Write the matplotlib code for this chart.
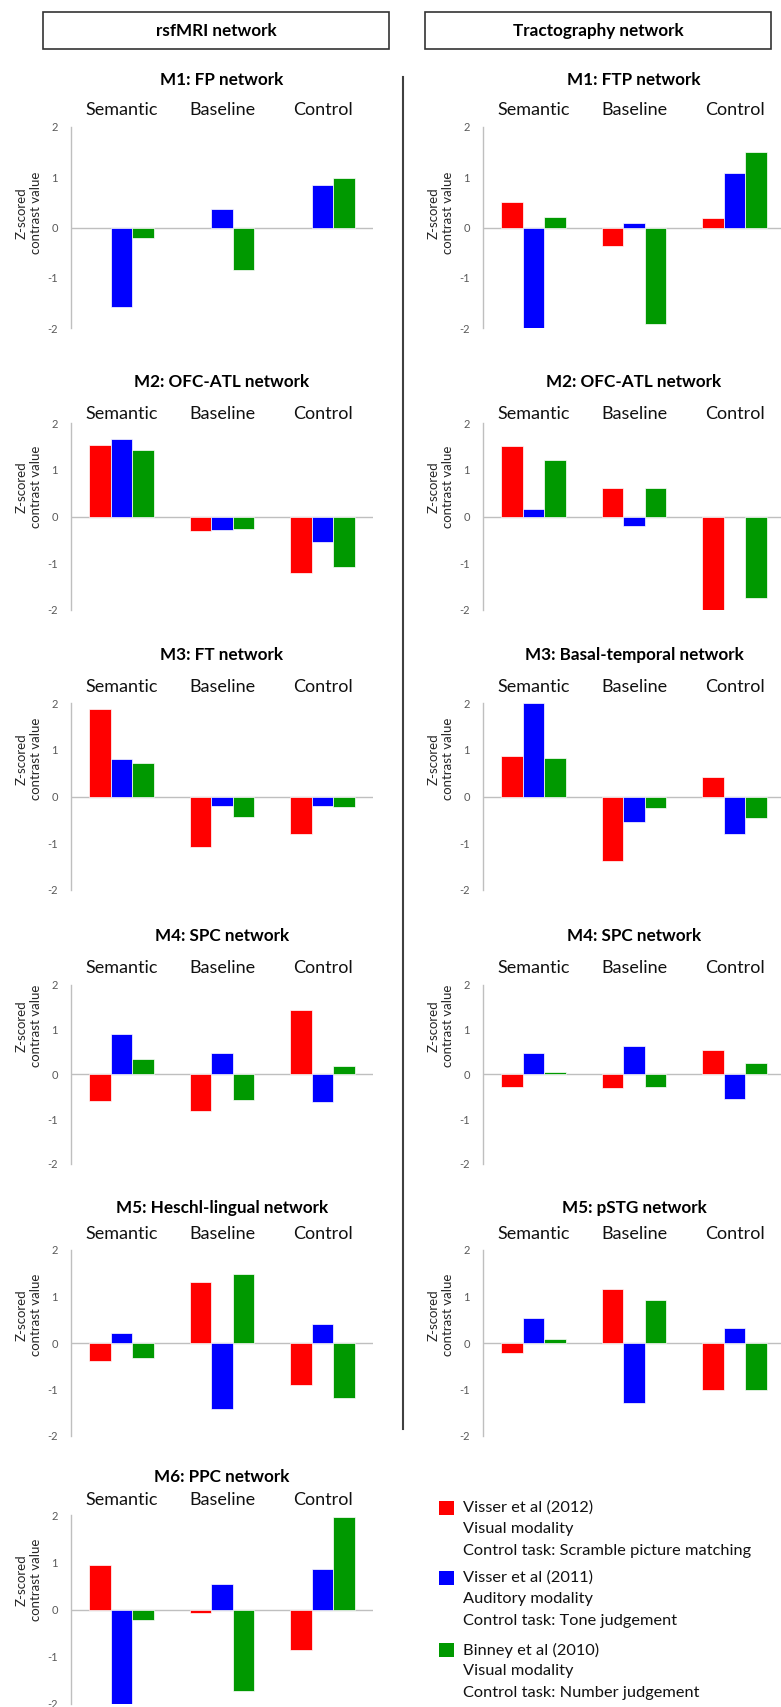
import matplotlib
matplotlib.use('Agg')
import matplotlib.pyplot as plt
import numpy as np
from matplotlib.patches import Rectangle
from matplotlib.lines import Line2D

plt.rcParams['font.family'] = ['Lato', 'DejaVu Sans']
plt.rcParams['axes.unicode_minus'] = False

# data: rows = categories, columns = studies (red, blue, green)
categories = ['Semantic', 'Baseline', 'Control']
study_names = ['Visser et al (2012)', 'Visser et al (2011)', 'Binney et al (2010)']
study_notes = [['Visual modality', 'Control task: Scramble picture matching'],
               ['Auditory modality', 'Control task: Tone judgement'],
               ['Visual modality', 'Control task: Number judgement']]
colors = ['#ff0000', '#0000ff', '#009900']
nan = np.nan

# rsfMRI networks
rs_m1 = [[nan, -1.58, -0.21], [nan, 0.37, -0.85], [nan, 0.85, 0.99]]
rs_m2 = [[1.54, 1.65, 1.42], [-0.32, -0.28, -0.26], [-1.20, -0.55, -1.08]]
rs_m3 = [[1.88, 0.80, 0.72], [-1.09, -0.21, -0.44], [-0.80, -0.21, -0.22]]
rs_m4 = [[-0.60, 0.90, 0.35], [-0.81, 0.48, -0.57], [1.43, -0.61, 0.18]]
rs_m5 = [[-0.38, 0.22, -0.32], [1.32, -1.41, 1.48], [-0.91, 0.41, -1.18]]
rs_m6 = [[0.94, -2.00, -0.23], [-0.08, 0.55, -1.73], [-0.85, 0.86, 1.96]]

# tractography networks
tr_m1 = [[0.51, -2.00, 0.21], [-0.37, 0.08, -1.91], [0.19, 1.09, 1.50]]
tr_m2 = [[1.51, 0.15, 1.20], [0.60, -0.20, 0.60], [-2.00, nan, -1.74]]
tr_m3 = [[0.86, 2.00, 0.83], [-1.37, -0.55, -0.25], [0.42, -0.80, -0.45]]
tr_m4 = [[-0.28, 0.48, 0.06], [-0.31, 0.64, -0.28], [0.54, -0.56, 0.24]]
tr_m5 = [[-0.21, 0.54, 0.09], [1.17, -1.30, 0.93], [-1.02, 0.33, -1.02]]

rs_titles = ['M1: FP network', 'M2: OFC-ATL network', 'M3: FT network',
             'M4: SPC network', 'M5: Heschl-lingual network', 'M6: PPC network']
tr_titles = ['M1: FTP network', 'M2: OFC-ATL network', 'M3: Basal-temporal network',
             'M4: SPC network', 'M5: pSTG network']
rs_values = [rs_m1, rs_m2, rs_m3, rs_m4, rs_m5, rs_m6]
tr_values = [tr_m1, tr_m2, tr_m3, tr_m4, tr_m5]

# layout in pixels (figure is 781 x 1707)
W, H = 781, 1707
ax_w = 302
col_x = [71, 483]
row_top = [126.7, 423, 703, 984.5, 1250, 1515]
row_bot = [328.3, 610, 890, 1164, 1436, 1704]
title_y = [80, 382, 655, 936, 1208, 1477]
cat_y = [110, 414, 687, 968, 1234, 1500]
ylab_y = [213, 487, 759, 1026, 1315, 1580]

fig = plt.figure(figsize=(W / 100, H / 100), dpi=100)


def draw_panel(col, row, title, vals):
    x0 = col_x[col]
    yt, yb = row_top[row], row_bot[row]
    h = yb - yt
    ax = fig.add_axes([x0 / W, 1 - yb / H, ax_w / W, h / H])
    vals = np.array(vals, dtype=float)
    x = np.arange(len(categories))
    bw = 0.215
    ax.axhline(0, color='#bfbfbf', lw=1.0, zorder=1)
    for i in range(3):
        ax.bar(x + (i - 1) * bw, vals[:, i], bw, color=colors[i],
               edgecolor='white', linewidth=0.5, zorder=2)
    ax.set_xlim(-0.5, 2.5)
    ax.set_ylim(-2, 2)
    ax.set_xticks([])
    ax.set_yticks([-2, -1, 0, 1, 2])
    ax.set_yticklabels(['-2', '-1', '0', '1', '2'])
    ax.tick_params(axis='y', length=0, pad=9.4, labelsize=8, labelcolor='#595959')
    for s in ['top', 'right', 'bottom']:
        ax.spines[s].set_visible(False)
    ax.spines['left'].set_color('#bfbfbf')
    ax.spines['left'].set_linewidth(1.0)
    ax.patch.set_alpha(0)
    trans = ax.get_xaxis_transform()
    for j, c in enumerate(categories):
        ax.text(j, 1 + (yt - cat_y[row]) / h, c, transform=trans, ha='center',
                va='center', fontsize=13, color='#111111')
    ax.text(0.5, 1 + (yt - title_y[row]) / h, title, transform=ax.transAxes,
            ha='center', va='center', fontsize=12.3, fontweight='bold', color='black')
    ax.text(-42 / ax_w, 1 - (ylab_y[row] - yt) / h, 'Z-scored\ncontrast value',
            transform=ax.transAxes, rotation=90, ha='center', va='center',
            fontsize=9.5, linespacing=1.25, color='#262626')
    return ax


for r, (t, v) in enumerate(zip(rs_titles, rs_values)):
    draw_panel(0, r, t, v)
for r, (t, v) in enumerate(zip(tr_titles, tr_values)):
    draw_panel(1, r, t, v)

# header boxes
for (bx0, bx1), label in zip([(43, 389), (425, 771)], ['rsfMRI network', 'Tractography network']):
    fig.add_artist(Rectangle((bx0 / W, 1 - 49 / H), (bx1 - bx0) / W, 37 / H,
                             transform=fig.transFigure, fill=False,
                             edgecolor='#333333', linewidth=1.2))
    fig.text((bx0 + bx1) / 2 / W, 1 - 30.7 / H, label, ha='center', va='center',
             fontsize=12.3, fontweight='bold', color='black')

# vertical divider
fig.add_artist(Line2D([403 / W, 403 / W], [1 - 77 / H, 1 - 1429 / H],
                      transform=fig.transFigure, color='#404040', linewidth=1.5))

# legend
leg_top = [1501, 1571, 1643]
for i in range(3):
    yt = leg_top[i]
    fig.add_artist(Rectangle((439 / W, 1 - (yt + 14) / H), 15 / W, 14 / H,
                             transform=fig.transFigure, facecolor=colors[i],
                             edgecolor='none'))
    lines = [study_names[i]] + study_notes[i]
    for k, line in enumerate(lines):
        fig.text(463 / W, 1 - (yt + 7 + 21.5 * k) / H, line, ha='left', va='center',
                 fontsize=11.8, color='#111111')

fig.savefig('out.png', dpi=100)
